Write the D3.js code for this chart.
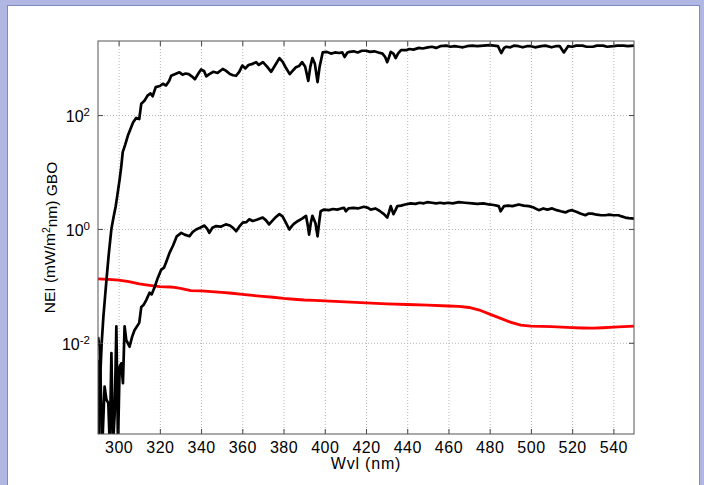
<!DOCTYPE html>
<html>
<head>
<meta charset="utf-8">
<script src="https://d3js.org/d3.v7.min.js"></script>
<style>
  body { margin: 0; }
  svg text { font-family: "Liberation Sans", Arial, Helvetica, sans-serif; fill: #000; }
  .gridlines line { stroke: #b4b4b4; stroke-dasharray: 1,2; }
  .gridlines .domain { stroke: none; }
  .axis .domain { stroke: none; }
  .axis line { stroke: #444; }
</style>
</head>
<body>
<svg id="chart" width="704" height="485"></svg>
<script>
// wavelength (nm), log10 NEI (mW/m^2 nm)
const upperCurve = [
  [290,-2.3],[290.5,-3.8],[291.2,-2.5],[291.8,-2.0],[292.6,-1.55],[293.4,-1.2],[294.1,-0.9],[295.2,-0.45],
  [296.5,0.0],[297.6,0.22],[298.6,0.4],[299.5,0.62],[300.5,0.87],[301.3,1.1],[302,1.35],[303.2,1.48],
  [304.5,1.64],[305.8,1.76],[307,1.87],[308.5,1.95],[310,1.93],[311,2.2],[312.5,2.25],[314,2.34],
  [315.5,2.38],[316.5,2.33],[318,2.49],[320,2.51],[321.5,2.55],[323,2.52],[324.5,2.6],[325.5,2.69],
  [327.5,2.72],[329.5,2.75],[331,2.71],[332.5,2.73],[334,2.72],[335.5,2.68],[337,2.63],[338.5,2.72],
  [340,2.8],[341.5,2.77],[342.5,2.68],[344,2.72],[346,2.76],[348,2.74],[350.5,2.81],[352,2.78],
  [354,2.72],[355.5,2.7],[357,2.69],[358.5,2.76],[360,2.87],[361.5,2.82],[363,2.88],[365,2.9],
  [366.7,2.93],[368,2.88],[370,2.93],[372,2.85],[374,2.76],[376,2.88],[378,3.0],[379.5,2.94],
  [381,2.84],[383,2.72],[384.5,2.78],[386,2.84],[387.5,2.86],[389,2.93],[390.5,2.85],[392,2.6],
  [393,2.85],[394,3.0],[395.2,2.9],[396.5,2.58],[397.5,2.85],[399,3.1],[401,3.11],[403,3.08],
  [405,3.1],[407,3.09],[408.5,3.1],[409.6,3.02],[411,3.1],[412,3.11],[414,3.12],[416,3.1],
  [418,3.13],[420,3.13],[422,3.11],[424,3.12],[426,3.1],[428,3.08],[429.3,3.02],[430.3,2.93],
  [431.2,3.02],[432,3.11],[433.3,3.08],[434.4,3.0],[435.5,3.08],[437,3.14],[439.5,3.14],[441,3.16],
  [443,3.15],[445.7,3.18],[447.5,3.17],[450,3.19],[452,3.2],[454,3.18],[456,3.21],[459,3.22],
  [461,3.2],[463,3.21],[465,3.2],[467,3.19],[469,3.21],[471.5,3.22],[474,3.21],[477,3.22],
  [480,3.23],[482,3.22],[484,3.21],[485.6,3.09],[487,3.18],[488,3.2],[490,3.19],[492,3.22],
  [494,3.21],[496,3.19],[498,3.21],[500,3.21],[502,3.19],[505,3.21],[507,3.22],[510,3.19],
  [512,3.21],[514,3.21],[516,3.1],[518,3.21],[520,3.2],[522,3.22],[525,3.22],[527,3.2],
  [530,3.2],[532,3.22],[535,3.22],[537,3.2],[540,3.21],[542,3.22],[545,3.22],[547,3.21],[550,3.22]
];

const middleCurve = [
  [290,-1.9],[290.8,-2.07],[292.1,-3.8],[293.2,-2.77],[294.1,-3.0],[295,-3.06],[295.7,-3.8],[296.5,-2.18],
  [297.3,-3.8],[298.1,-3.24],[298.9,-1.71],[299.7,-3.8],[300.5,-2.42],[301.3,-2.36],[302.1,-2.71],[302.9,-1.71],
  [303.7,-1.95],[305.3,-2.07],[306.5,-1.9],[307.7,-1.78],[310,-1.65],[311,-1.37],[312.2,-1.33],[313.4,-1.25],
  [315,-1.12],[316,-1.15],[317.4,-1.03],[319,-0.86],[320.6,-0.72],[322,-0.68],[323,-0.59],[324.7,-0.42],
  [326.3,-0.3],[327.2,-0.22],[328.2,-0.13],[330.4,-0.07],[332,-0.1],[334.4,-0.13],[336,-0.05],[337.6,-0.01],
  [339.5,0.02],[341.6,0.06],[343,0.0],[344,-0.07],[345.5,0.02],[347.3,0.05],[349.5,0.04],[352,0.08],
  [354,0.06],[355.5,0.02],[357,-0.04],[358.5,0.04],[360.2,0.11],[362,0.12],[363.4,0.17],[365,0.14],
  [367,0.16],[369.9,0.2],[371.5,0.15],[373,0.08],[374.5,0.14],[376,0.2],[378,0.26],[379.5,0.22],
  [381,0.12],[382.8,-0.01],[384,0.05],[385,0.09],[387,0.14],[389,0.18],[390.9,0.23],[391.8,0.05],
  [392.4,-0.1],[393.2,0.1],[394,0.23],[395.5,0.1],[396.5,-0.13],[397.3,0.12],[398,0.31],[399.7,0.34],
  [402,0.33],[404,0.35],[406,0.34],[408,0.36],[409.4,0.37],[410.2,0.31],[411.5,0.36],[414,0.37],
  [416,0.36],[419,0.39],[421,0.37],[422.3,0.34],[424.5,0.36],[426.5,0.32],[428.7,0.26],[430.3,0.2],
  [431.2,0.3],[432,0.4],[433.3,0.26],[434.3,0.33],[435.2,0.4],[437,0.41],[439,0.43],[441.7,0.45],
  [444,0.44],[446,0.46],[448,0.45],[449.7,0.47],[452,0.46],[454,0.45],[456,0.46],[457.8,0.45],
  [460,0.46],[462,0.45],[465,0.47],[468,0.46],[471.5,0.45],[474,0.44],[477,0.45],[479.6,0.43],
  [482,0.42],[484.4,0.4],[485.3,0.31],[486.9,0.4],[489,0.41],[491,0.4],[494.1,0.43],[496.5,0.41],
  [499,0.4],[501,0.38],[503.8,0.33],[506,0.36],[508,0.34],[510.3,0.36],[512.5,0.33],[514.5,0.31],
  [516.7,0.29],[518.5,0.32],[519.9,0.33],[522,0.3],[524,0.27],[526.4,0.24],[528,0.27],[529.6,0.27],
  [532,0.25],[534,0.24],[536.1,0.24],[538,0.25],[540,0.24],[542.5,0.24],[544,0.22],[545.8,0.2],
  [547.5,0.19],[550,0.18]
];

const redCurve = [
  [290,-0.876],[295,-0.885],[300,-0.9],[305,-0.924],[310,-0.965],[315,-0.99],[320,-1.012],[325,-1.02],
  [327,-1.027],[330,-1.044],[335,-1.083],[340,-1.088],[345,-1.1],[350,-1.115],[355,-1.13],[360,-1.15],
  [365,-1.168],[370,-1.186],[375,-1.2],[380,-1.221],[385,-1.235],[390,-1.248],[395,-1.256],[400,-1.265],
  [410,-1.283],[420,-1.3],[430,-1.315],[440,-1.327],[450,-1.34],[460,-1.354],[465,-1.362],[470,-1.38],
  [475,-1.425],[480,-1.496],[485,-1.566],[490,-1.637],[495,-1.69],[500,-1.708],[505,-1.712],[510,-1.717],
  [515,-1.726],[520,-1.735],[525,-1.74],[530,-1.743],[535,-1.736],[540,-1.726],[545,-1.717],[550,-1.708]
];

const xTicks = [300, 320, 340, 360, 380, 400, 420, 440, 460, 480, 500, 520, 540];
const yTickExps = [-2, 0, 2];

const svg = d3.select("svg#chart");
const width = +svg.attr("width");
const height = +svg.attr("height");
const margin = {top: 41, right: 70, bottom: 51, left: 98};
const chartWidth = width - margin.left - margin.right;
const chartHeight = height - margin.top - margin.bottom;

// window frame
svg.append("rect").attr("width", width).attr("height", height).attr("fill", "#b1b7e3");
svg.append("rect").attr("x", 7.5).attr("y", 5.5).attr("width", 692).attr("height", 485)
  .attr("fill", "#fff").attr("stroke", "#8089bd");

const xScale = d3.scaleLinear().domain([290, 550]).range([0, chartWidth]);
const yScale = d3.scaleLog().domain([2.5e-4, 2000]).range([chartHeight, 0]);

const chartArea = svg.append("g")
  .attr("transform", "translate(" + margin.left + "," + margin.top + ")");

// gridlines
chartArea.append("g").attr("class", "x gridlines")
  .attr("transform", "translate(0," + chartHeight + ")")
  .call(d3.axisBottom(xScale).tickValues(xTicks).tickSize(-chartHeight).tickFormat(""));
chartArea.append("g").attr("class", "y gridlines")
  .call(d3.axisLeft(yScale).tickValues(yTickExps.map(e => Math.pow(10, e))).tickSize(-chartWidth).tickFormat(""));

// curves
svg.append("clipPath").attr("id", "plotClip")
  .append("rect").attr("width", chartWidth).attr("height", chartHeight);
const lines = chartArea.append("g").attr("clip-path", "url(#plotClip)");
const line = d3.line()
  .x(d => xScale(d[0]))
  .y(d => yScale(Math.pow(10, d[1])));

lines.append("path").datum(redCurve)
  .attr("d", line).attr("fill", "none").attr("stroke", "#ff0000").attr("stroke-width", 2.8);
lines.append("path").datum(middleCurve)
  .attr("d", line).attr("fill", "none").attr("stroke", "#000").attr("stroke-width", 2.7)
  .attr("stroke-linejoin", "round");
lines.append("path").datum(upperCurve)
  .attr("d", line).attr("fill", "none").attr("stroke", "#000").attr("stroke-width", 2.7)
  .attr("stroke-linejoin", "round");

// axes with inward ticks on all four sides
const bottomAxis = chartArea.append("g").attr("class", "axis")
  .attr("transform", "translate(0," + chartHeight + ")")
  .call(d3.axisBottom(xScale).tickValues(xTicks).tickSizeInner(-5).tickSizeOuter(0).tickPadding(8));
bottomAxis.selectAll("text").style("font-size", "16px").attr("letter-spacing", "0.5px");

chartArea.append("g").attr("class", "axis")
  .call(d3.axisTop(xScale).tickValues(xTicks).tickSizeInner(-5).tickSizeOuter(0).tickFormat(""));

const leftAxis = chartArea.append("g").attr("class", "axis")
  .call(d3.axisLeft(yScale).tickValues(yTickExps.map(e => Math.pow(10, e)))
    .tickSizeInner(-5).tickSizeOuter(0).tickPadding(8).tickFormat(""));
leftAxis.selectAll(".tick").each(function(d, i) {
  const t = d3.select(this).select("text").attr("dy", "0.42em").style("font-size", "16px");
  t.append("tspan").text("10");
  t.append("tspan").attr("dy", "-0.55em").style("font-size", "11.5px").text(yTickExps[i]);
});

chartArea.append("g").attr("class", "axis")
  .attr("transform", "translate(" + chartWidth + ",0)")
  .call(d3.axisRight(yScale).tickValues(yTickExps.map(e => Math.pow(10, e)))
    .tickSizeInner(-5).tickSizeOuter(0).tickFormat(""));

// box
chartArea.append("rect").attr("width", chartWidth).attr("height", chartHeight)
  .attr("fill", "none").attr("stroke", "#555").attr("stroke-width", 1);

// axis labels
svg.append("text")
  .attr("x", margin.left + chartWidth / 2).attr("y", 469)
  .attr("text-anchor", "middle").style("font-size", "16px").attr("letter-spacing", "0.8px")
  .text("Wvl (nm)");

const yLabel = svg.append("text")
  .attr("transform", "translate(55," + (margin.top + chartHeight / 2) + ") rotate(-90)")
  .attr("text-anchor", "middle").style("font-size", "15.5px");
yLabel.append("tspan").text("NEI (mW/m");
yLabel.append("tspan").attr("dy", "-0.45em").style("font-size", "10.5px").text("2");
yLabel.append("tspan").attr("dy", "0.45em").text("nm) GBO");
</script>
</body>
</html>
